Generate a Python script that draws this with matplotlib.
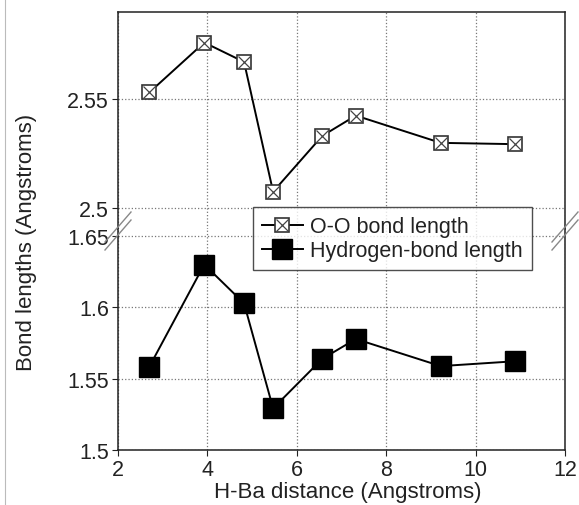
import matplotlib
matplotlib.use("Agg")
import matplotlib.pyplot as plt
from matplotlib.lines import Line2D
from matplotlib.legend_handler import HandlerTuple

plt.rcParams['font.family'] = ['Liberation Sans', 'DejaVu Sans']
plt.rcParams['font.size'] = 15.5

# data
hba_dist = [2.70, 3.93, 4.82, 5.47, 6.57, 7.32, 9.22, 10.88]
oo_bond = [2.5531, 2.5760, 2.5671, 2.5076, 2.5332, 2.5425, 2.5300, 2.5294]
h_bond = [1.5583, 1.6300, 1.6028, 1.5292, 1.5639, 1.5778, 1.5588, 1.5622]

W, H = 579, 506
fig = plt.figure(figsize=(W / 100, H / 100), dpi=100)

left, right = 118 / W, 565 / W
top, brk, bottom = 1 - 13 / H, 1 - 230 / H, 1 - 451 / H
ax_top = fig.add_axes([left, brk, right - left, top - brk])
ax_bot = fig.add_axes([left, bottom, right - left, brk - bottom])

edge = '#222222'
for ax in (ax_top, ax_bot):
    ax.set_xlim(2, 12)
    ax.grid(True, linestyle=':', color='#777777', linewidth=0.9)
    ax.set_axisbelow(True)
    for s in ax.spines.values():
        s.set_color(edge)
        s.set_linewidth(1.1)
    ax.tick_params(direction='out', length=4, pad=2.5, color=edge,
                   labelsize=15.5, labelcolor='#222222')

ax_top.spines['bottom'].set_visible(False)
ax_bot.spines['top'].set_visible(False)
ax_top.tick_params(axis='x', bottom=False, labelbottom=False)

ax_top.set_ylim(2.4905, 2.59)
ax_top.set_yticks([2.5, 2.55])
ax_top.set_yticklabels(['2.5', '2.55'])
ax_bot.set_ylim(1.5, 1.6549)
ax_bot.set_yticks([1.5, 1.55, 1.6, 1.65])
ax_bot.set_yticklabels(['1.5', '1.55', '1.6', '1.65'])
ax_bot.set_xticks([2, 4, 6, 8, 10, 12])

l1, = ax_top.plot(hba_dist, oo_bond, color='black', linewidth=1.4,
                  marker='s', markersize=10, markerfacecolor='white',
                  markeredgecolor='#333333', markeredgewidth=1.2, zorder=3)
l1x, = ax_top.plot(hba_dist, oo_bond, linestyle='none', marker='x',
                   markersize=9, markeredgecolor='#444444',
                   markeredgewidth=0.9, zorder=4)
l2, = ax_bot.plot(hba_dist, h_bond, color='black', linewidth=1.4,
                  marker='s', markersize=14, markerfacecolor='black',
                  markeredgecolor='black', zorder=3)

leg = fig.legend([(l1, l1x), l2], ['O-O bond length', 'Hydrogen-bond length'],
                 handler_map={tuple: HandlerTuple(ndivide=1)},
                 loc='upper left', bbox_to_anchor=(253 / W, 1 - 208 / H),
                 fontsize=15.5, frameon=True, fancybox=False, borderpad=0.42,
                 handlelength=1.9, handletextpad=0.33, labelspacing=0.15,
                 borderaxespad=0)
leg.get_frame().set_edgecolor(edge)
leg.get_frame().set_linewidth(1.0)
for t in leg.get_texts():
    t.set_color('#222222')

# break marks on both spines
for xc in (118, 565):
    for dy in (-4, 4):
        yc = 232 + dy
        fig.add_artist(Line2D([(xc - 13) / W, (xc + 13) / W],
                              [1 - (yc + 15) / H, 1 - (yc - 15) / H],
                              color='#888888', linewidth=1.0))

# thin grey border line at the far left of the image
fig.add_artist(Line2D([5 / W, 5 / W], [0, 1], color='#bbbbbb', linewidth=0.8))

fig.text(27 / W, 1 - 242 / H, 'Bond lengths (Angstroms)', rotation=90,
         ha='center', va='center', fontsize=16, color='#222222')
fig.text(348 / W, 1 - 493 / H, 'H-Ba distance (Angstroms)',
         ha='center', va='center', fontsize=16, color='#222222')

fig.savefig('out.png', dpi=100)
